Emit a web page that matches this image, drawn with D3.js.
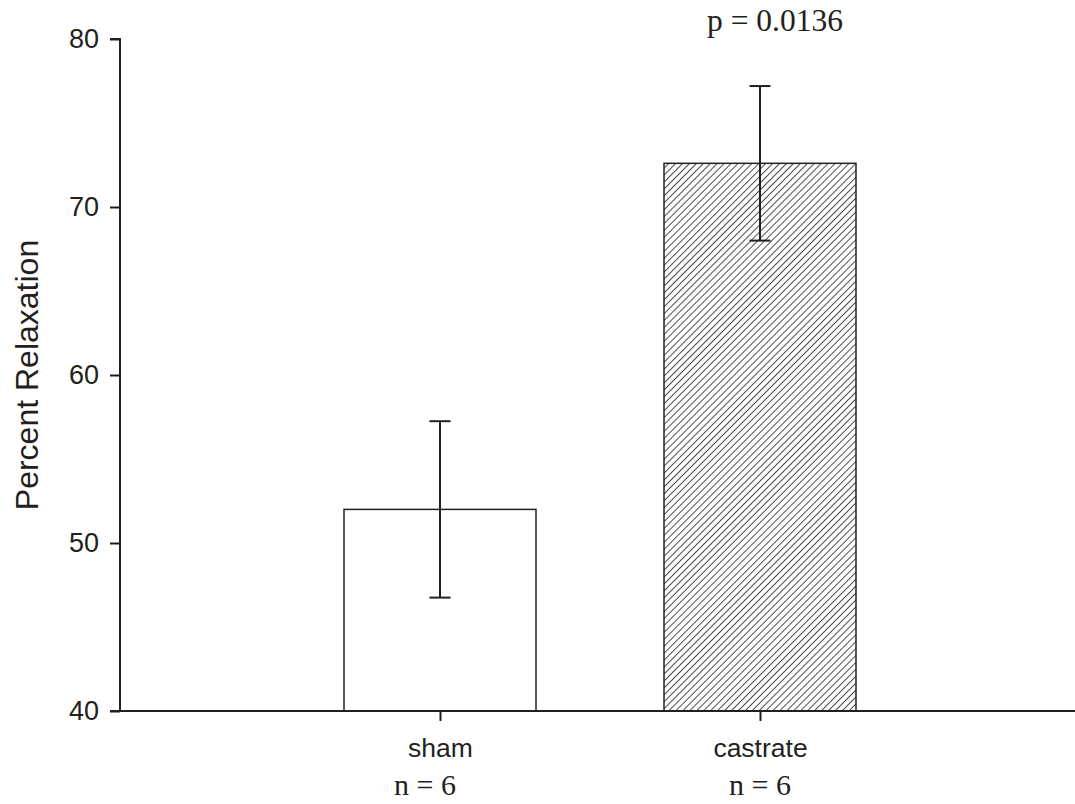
<!DOCTYPE html>
<html>
<head>
<meta charset="utf-8">
<script src="https://cdn.jsdelivr.net/npm/d3@7"></script>
<style>
  html, body { margin: 0; padding: 0; background: #fff; }
  svg { display: block; }
</style>
</head>
<body>
<svg id="chart" width="1075" height="804"></svg>
<script>
// ---- data ----
const categories = ["sham", "castrate"];
const means = [52.0, 72.6];
const errUpper = [57.25, 77.2];
const errLower = [46.75, 68.0];
const nLabels = ["n = 6", "n = 6"];
const yTicks = [40, 50, 60, 70, 80];
const pLabel = "p = 0.0136";
const yTitle = "Percent Relaxation";

(function () {
// ---- layout ----
const svg = d3.select("#chart");
const ink = "#231f20";
const mLeft = 120, mRight = 1080, mTop = 39, mBottom = 711;

const y = d3.scaleLinear().domain([40, 80]).range([mBottom, mTop]);
// positions: slot 0 = axis start, slots 1..n = categories
const x = d3.scaleLinear().domain([0, categories.length + 1]).range([mLeft, mRight]);
const step = x(1) - x(0);
const barW = step * 0.6;

// hatch pattern
const defs = svg.append("defs");
const pat = defs.append("pattern")
  .attr("id", "hatch")
  .attr("patternUnits", "userSpaceOnUse")
  .attr("width", 4.9).attr("height", 4.9)
  .attr("patternTransform", "rotate(45)");
pat.append("rect").attr("width", 4.9).attr("height", 4.9).attr("fill", "#fff");
pat.append("line")
  .attr("x1", 0).attr("y1", -1).attr("x2", 0).attr("y2", 6)
  .attr("stroke", ink).attr("stroke-width", 1.6);

// bars
svg.append("g").selectAll("rect")
  .data(categories)
  .join("rect")
  .attr("x", (d, i) => x(i + 1) - barW / 2)
  .attr("y", (d, i) => y(means[i]))
  .attr("width", barW)
  .attr("height", (d, i) => y(40) - y(means[i]))
  .attr("fill", (d, i) => i === 0 ? "#fff" : "url(#hatch)")
  .attr("stroke", ink)
  .attr("stroke-width", 1.5);

// error bars
const eb = svg.append("g").attr("stroke", ink).attr("stroke-width", 2);
categories.forEach((c, i) => {
  const cx = x(i + 1);
  eb.append("line").attr("x1", cx).attr("x2", cx)
    .attr("y1", y(errUpper[i])).attr("y2", y(errLower[i]));
  [errUpper[i], errLower[i]].forEach(v => {
    eb.append("line").attr("x1", cx - 10.5).attr("x2", cx + 10.5)
      .attr("y1", y(v)).attr("y2", y(v));
  });
});

// y axis
const yAxis = svg.append("g")
  .attr("transform", `translate(${mLeft},0)`)
  .call(d3.axisLeft(y).tickValues(yTicks).tickSize(10).tickPadding(11));
yAxis.select(".domain").attr("stroke", ink).attr("stroke-width", 2)
  .attr("d", `M-10,${mTop}H0V${mBottom}H-10`);
yAxis.selectAll(".tick line").attr("stroke", ink).attr("stroke-width", 2);
yAxis.selectAll(".tick text")
  .attr("fill", ink)
  .style("font-family", "'Liberation Sans', Arial, sans-serif")
  .style("font-size", "27px");

// x axis
const xAxis = svg.append("g")
  .attr("transform", `translate(0,${mBottom})`)
  .call(d3.axisBottom(x).tickValues(categories.map((c, i) => i + 1))
    .tickFormat(v => categories[v - 1]).tickSize(10).tickPadding(16));
xAxis.select(".domain").attr("stroke", ink).attr("stroke-width", 2)
  .attr("d", `M${mLeft},0H${mRight}`);
xAxis.selectAll(".tick line").attr("stroke", ink).attr("stroke-width", 2);
xAxis.selectAll(".tick text")
  .attr("fill", ink)
  .attr("dy", null)
  .attr("y", 46)
  .style("font-family", "'Liberation Sans', Arial, sans-serif")
  .style("font-size", "26.5px");

// n labels
svg.append("g").selectAll("text")
  .data(nLabels)
  .join("text")
  .attr("x", (d, i) => x(i + 1) - (i === 0 ? 15 : 0))
  .attr("y", 795)
  .attr("text-anchor", "middle")
  .attr("fill", ink)
  .style("font-family", "'Liberation Serif', 'Times New Roman', serif")
  .style("font-size", "30px")
  .text(d => d);

// p label
svg.append("text")
  .attr("x", x(2) + 15)
  .attr("y", 31)
  .attr("text-anchor", "middle")
  .attr("fill", ink)
  .style("font-family", "'Liberation Serif', 'Times New Roman', serif")
  .style("font-size", "31.5px")
  .text(pLabel);

// y title
svg.append("text")
  .attr("transform", `translate(38,${(mTop + mBottom) / 2}) rotate(-90)`)
  .attr("text-anchor", "middle")
  .attr("fill", ink)
  .style("font-family", "'Liberation Sans', Arial, sans-serif")
  .style("font-size", "32px")
  .text(yTitle);
})();
</script>
</body>
</html>
